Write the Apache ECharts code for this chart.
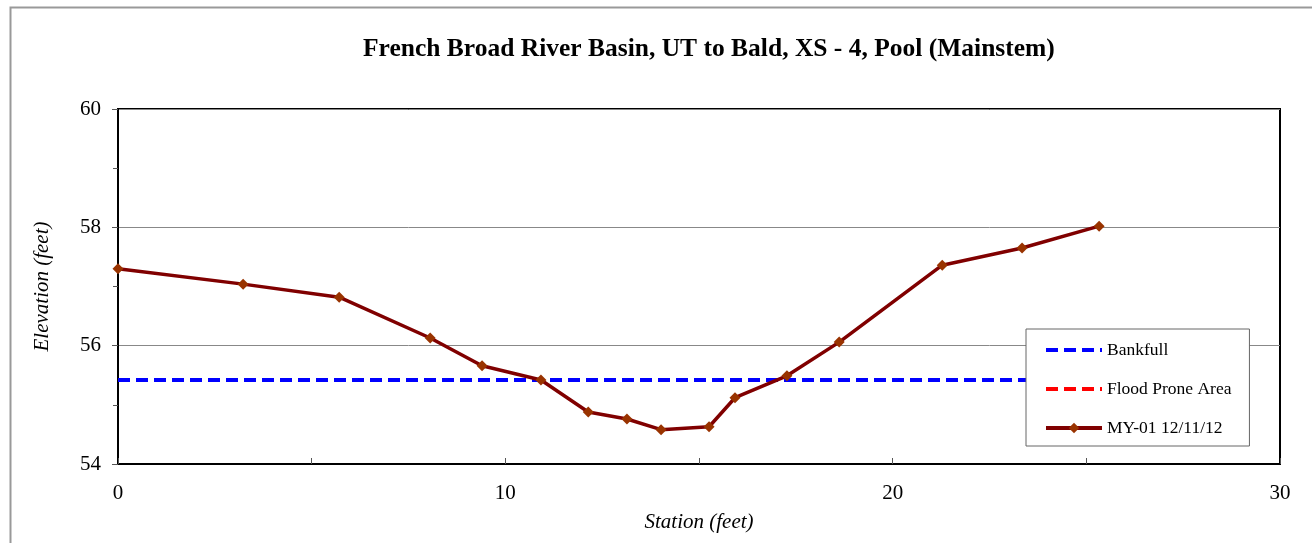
<!DOCTYPE html>
<html>
<head>
<meta charset="utf-8">
<script src="https://cdn.jsdelivr.net/npm/echarts@6/dist/echarts.min.js"></script>
<style>
  html, body { margin: 0; padding: 0; background: #fff; }
  #chart { width: 1312px; height: 543px; }
</style>
</head>
<body>
<div id="chart"></div>
<script>
// survey data
const station = [0, 3.23, 5.71, 8.06, 9.40, 10.92, 12.14, 13.14, 14.02, 15.26, 15.93, 17.27, 18.62, 21.28, 23.34, 25.33];
const elevation = [57.30, 57.04, 56.82, 56.13, 55.66, 55.42, 54.88, 54.76, 54.58, 54.63, 55.12, 55.49, 56.06, 57.36, 57.65, 58.02];
const bankfullX = [0, 25.33];
const bankfullY = [55.42, 55.42];
const floodX = [];
const floodY = [];

const pairs = (xs, ys) => xs.map((x, i) => [x, ys[i]]);
const serif = '"Liberation Serif", "DejaVu Serif", serif';

const chart = echarts.init(document.getElementById('chart'));
chart.setOption({
    animation: false,
    backgroundColor: '#fff',
    textStyle: { fontFamily: serif, color: '#000' },
    title: {
        text: 'French Broad River Basin, UT to Bald, XS - 4, Pool (Mainstem)',
        left: 358,
        top: 31,
        textStyle: { fontFamily: serif, fontSize: 25.5, fontWeight: 'bold', color: '#000' }
    },
    graphic: [{
        type: 'rect',
        shape: { x: 10.5, y: 7.5, width: 1400, height: 600 },
        style: { fill: 'none', stroke: '#999', lineWidth: 2 },
        silent: true
    }],
    grid: {
        left: 118, right: 32, top: 109, bottom: 79,
        show: true, borderColor: '#000', borderWidth: 2, backgroundColor: 'transparent'
    },
    legend: {
        orient: 'vertical',
        left: 1026, top: 329,
        width: 226,
        padding: [12, 18, 9, 18],
        itemGap: 21,
        itemWidth: 56,
        itemHeight: 13,
        backgroundColor: '#fff',
        borderColor: '#666',
        borderWidth: 1,
        lineStyle: { width: 4 },
        textStyle: { fontFamily: serif, fontSize: 17.5, color: '#000' },
        data: [
            { name: 'Bankfull', itemStyle: { opacity: 0 } },
            { name: 'Flood Prone Area', itemStyle: { opacity: 0 } },
            { name: 'MY-01 12/11/12' }
        ]
    },
    xAxis: {
        type: 'value',
        min: 0, max: 30, interval: 10,
        name: 'Station (feet)',
        nameLocation: 'middle',
        nameGap: 48,
        nameTextStyle: { fontFamily: serif, fontSize: 21, fontStyle: 'italic', color: '#000' },
        axisLine: { lineStyle: { color: '#000', width: 2 } },
        axisTick: { show: true, inside: true, length: 6, lineStyle: { color: '#555' } },
        minorTick: { show: true, splitNumber: 2, length: 6, lineStyle: { color: '#555' } },
        axisLabel: { fontFamily: serif, fontSize: 21, color: '#000', margin: 19 },
        splitLine: { show: false }
    },
    yAxis: {
        type: 'value',
        min: 54, max: 60, interval: 2,
        name: 'Elevation (feet)',
        nameLocation: 'middle',
        nameGap: 65,
        nameTextStyle: { fontFamily: serif, fontSize: 21, fontStyle: 'italic', color: '#000' },
        axisLine: { lineStyle: { color: '#000', width: 2 } },
        axisTick: { show: true, length: 6, lineStyle: { color: '#555' } },
        minorTick: { show: true, splitNumber: 2, length: 5, lineStyle: { color: '#555' } },
        axisLabel: { fontFamily: serif, fontSize: 21, color: '#000', margin: 17 },
        splitLine: { show: true, lineStyle: { color: '#888', width: 1 } }
    },
    series: [
        {
            name: 'Bankfull',
            type: 'line',
            data: pairs(bankfullX, bankfullY),
            symbol: 'none',
            color: '#0000ff',
            lineStyle: { color: '#0000ff', width: 4, type: [12, 6] },
            z: 2
        },
        {
            name: 'Flood Prone Area',
            type: 'line',
            data: pairs(floodX, floodY),
            symbol: 'none',
            color: '#ff0000',
            lineStyle: { color: '#ff0000', width: 4, type: [12, 6] },
            z: 2
        },
        {
            name: 'MY-01 12/11/12',
            type: 'line',
            data: pairs(station, elevation),
            symbol: 'diamond',
            symbolSize: 11,
            color: '#993300',
            itemStyle: { color: '#993300' },
            lineStyle: { color: '#800000', width: 3.5 },
            z: 3
        }
    ]
});
</script>
</body>
</html>
